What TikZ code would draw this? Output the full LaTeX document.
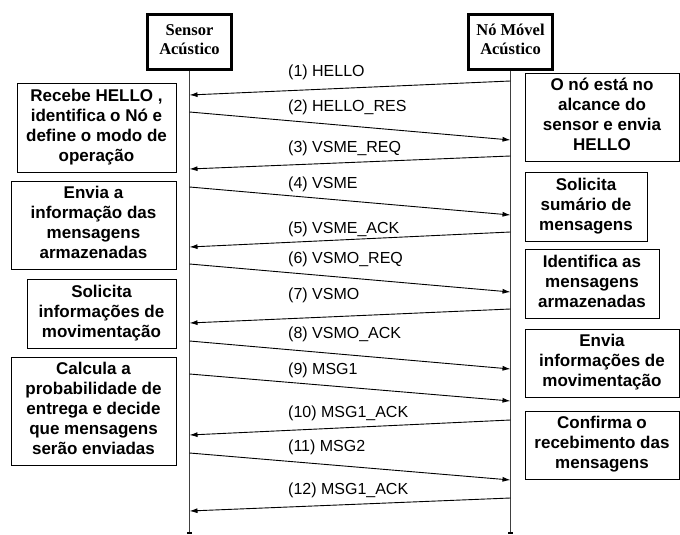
\documentclass[tikz,border=0pt]{standalone}
\usepackage{fontspec}
\setmainfont{Liberation Sans}
\newfontfamily\headserif{Liberation Serif}
\usetikzlibrary{arrows.meta}
\begin{document}
\begin{tikzpicture}[x=1pt,y=-1pt,
  headbox/.style={draw, line width=3pt, minimum width=84pt, minimum height=55pt,
    inner sep=0pt, align=center, font=\headserif\bfseries\fontsize{16.5}{19}\selectfont,
    execute at begin node={\rule{0pt}{16pt}},
    execute at end node={\rule[-4.5pt]{0pt}{0pt}}},
  notebox/.style={draw, line width=0.8pt, inner sep=0pt, align=center,
    font=\bfseries\fontsize{17}{20}\selectfont,
    execute at begin node={\rule{0pt}{17pt}},
    execute at end node={\rule[-5pt]{0pt}{0pt}}},
  lifeline/.style={draw=black!75, line width=1.3pt},
  msg/.style={-{Latex[length=8pt,width=5pt]}, line width=0.9pt},
  msglabel/.style={anchor=base west, inner sep=0pt, font=\fontsize{16}{19}\selectfont}]

\useasboundingbox (0,0) rectangle (680,535);

% participants
\node[headbox] (sensor) at (189.5,42) {Sensor\\Acústico};
\node[headbox] (movel)  at (510.5,42) {Nó Móvel\\Acústico};

% lifelines
\coordinate (sensorEnd) at (189.5,533);
\coordinate (movelEnd)  at (510.5,533);
\draw[lifeline] (sensor.south) -- (sensorEnd);
\draw[lifeline] (movel.south) -- (movelEnd);
\draw[line width=2pt] ([xshift=-2.5pt]sensorEnd) -- ([xshift=2.5pt]sensorEnd);
\draw[line width=2pt] ([xshift=-2.5pt]movelEnd) -- ([xshift=2.5pt]movelEnd);

% message end points on the lifelines
\coordinate (m1a) at (510.5,81);   \coordinate (m1b) at (189.5,95);
\coordinate (m2a) at (189.5,112);  \coordinate (m2b) at (510.5,140);
\coordinate (m3a) at (510.5,156);  \coordinate (m3b) at (189.5,169);
\coordinate (m4a) at (189.5,187);  \coordinate (m4b) at (510.5,215);
\coordinate (m5a) at (510.5,232);  \coordinate (m5b) at (189.5,247);
\coordinate (m6a) at (189.5,264);  \coordinate (m6b) at (510.5,292);
\coordinate (m7a) at (510.5,309);  \coordinate (m7b) at (189.5,323);
\coordinate (m8a) at (189.5,341);  \coordinate (m8b) at (510.5,369);
\coordinate (m9a) at (189.5,374);  \coordinate (m9b) at (510.5,401);
\coordinate (m10a) at (510.5,420); \coordinate (m10b) at (189.5,435);
\coordinate (m11a) at (189.5,453); \coordinate (m11b) at (510.5,480);
\coordinate (m12a) at (510.5,498); \coordinate (m12b) at (189.5,511);

\foreach \i in {1,...,12} \draw[msg] (m\i a) -- (m\i b);

% message labels
\node[msglabel] (l1)  at (288,77)  {(1) HELLO};
\node[msglabel] (l2)  at (288,111) {(2) HELLO\_RES};
\node[msglabel] (l3)  at (288,152) {(3) VSME\_REQ};
\node[msglabel] (l4)  at (288,188) {(4) VSME};
\node[msglabel] (l5)  at (288,233) {(5) VSME\_ACK};
\node[msglabel] (l6)  at (288,263) {(6) VSMO\_REQ};
\node[msglabel] (l7)  at (288,299) {(7) VSMO};
\node[msglabel] (l8)  at (288,338) {(8) VSMO\_ACK};
\node[msglabel] (l9)  at (288,374) {(9) MSG1};
\node[msglabel] (l10) at (288,417) {(10) MSG1\_ACK};
\node[msglabel] (l11) at (288,451) {(11) MSG2};
\node[msglabel] (l12) at (288,494) {(12) MSG1\_ACK};

% actions of the sensor
\node[notebox, minimum width=159pt, minimum height=89pt] (sa1) at (96.5,127.5)
  {Recebe HELLO ,\\identifica o Nó e\\define o modo de\\operação};
\node[notebox, minimum width=165pt, minimum height=88pt] (sa2) at (93.5,225)
  {Envia a\\informação das\\mensagens\\armazenadas};
\node[notebox, minimum width=149pt, minimum height=69pt] (sa3) at (101.5,313.5)
  {Solicita\\informações de\\movimentação};
\node[notebox, minimum width=165pt, minimum height=108pt] (sa4) at (93.5,411)
  {Calcula a\\probabilidade de\\entrega e decide\\que mensagens\\serão enviadas};

% actions of the mobile node
\node[notebox, minimum width=154pt, minimum height=88pt] (ma1) at (602,117)
  {O nó está no\\alcance do\\sensor e envia\\HELLO};
\node[notebox, minimum width=122pt, minimum height=69pt] (ma2) at (586,206.5)
  {Solicita\\sumário de\\mensagens};
\node[notebox, minimum width=134pt, minimum height=69pt] (ma3) at (592,283.5)
  {Identifica as\\mensagens\\armazenadas};
\node[notebox, minimum width=154pt, minimum height=68pt] (ma4) at (602,363)
  {Envia\\informações de\\movimentação};
\node[notebox, minimum width=154pt, minimum height=68pt] (ma5) at (602,445)
  {Confirma o\\recebimento das\\mensagens};
\end{tikzpicture}
\end{document}
